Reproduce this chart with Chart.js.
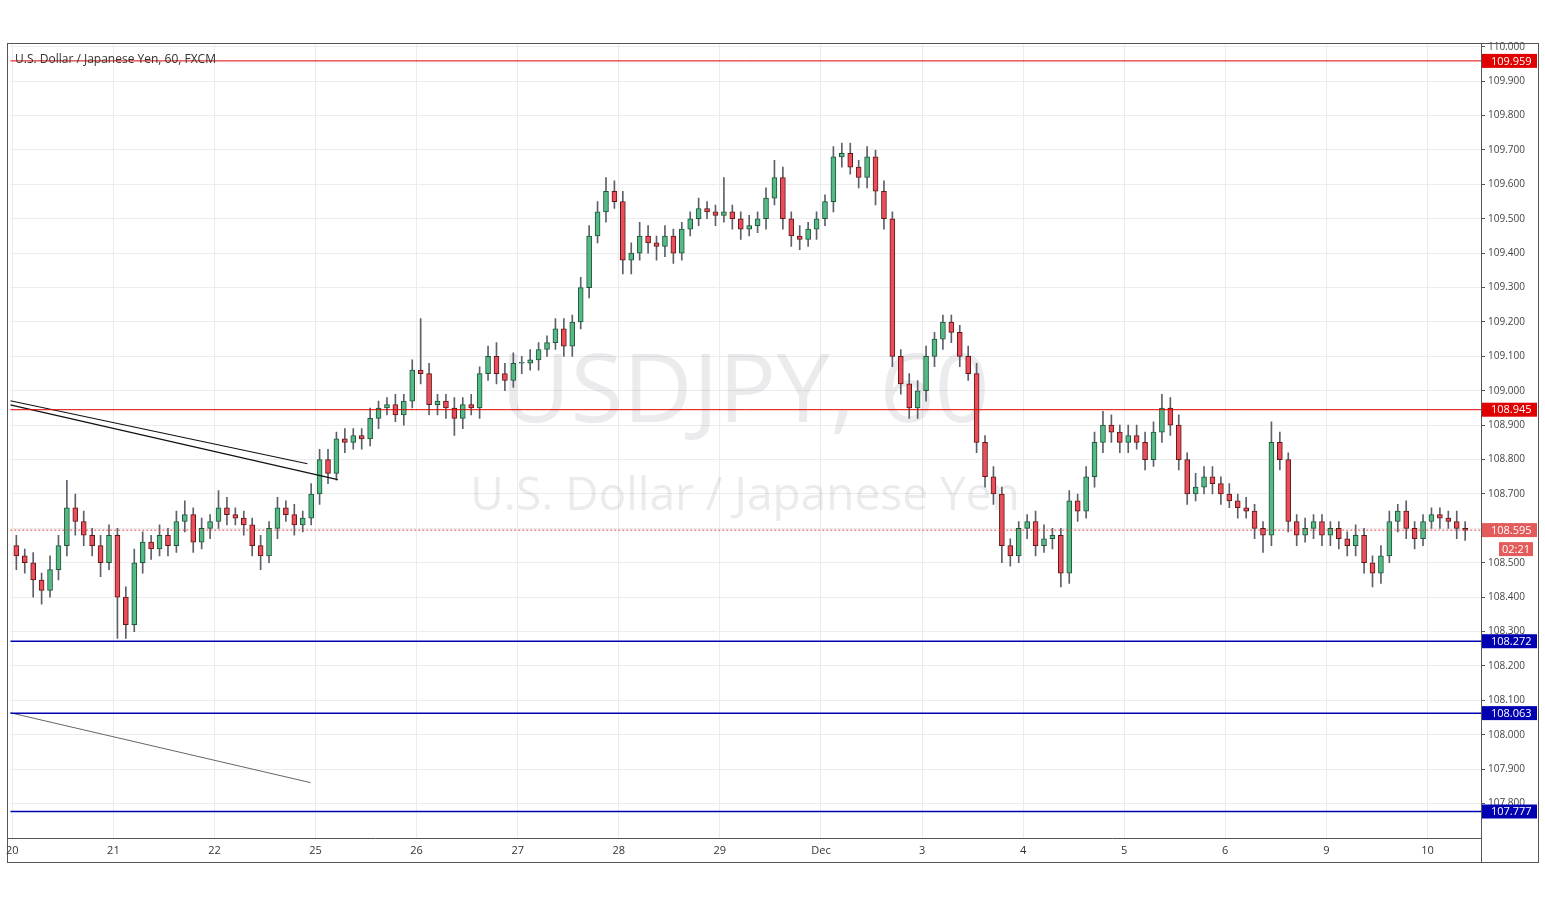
<!DOCTYPE html>
<html>
<head>
<meta charset="utf-8">
<script src="https://cdn.jsdelivr.net/npm/chart.js@4"></script>
<style>
  html, body { margin: 0; padding: 0; background: #fff; }
  #wrap { width: 1545px; height: 900px; }
</style>
</head>
<body>
<div id="wrap"><canvas id="c"></canvas></div>
<script>
(function () {
  'use strict';

  // day labels, one per trading day
  var dayLabels = ['20', '21', '22', '25', '26', '27', '28', '29', 'Dec', '3', '4', '5', '6', '9', '10'];
  var CANDLES_PER_DAY = 12; // 2-hour candles

  // closing prices, 12 per day
  var closes = [
    108.52,108.50,108.45,108.42,108.48,108.55,108.66,108.62,108.58,108.55,108.50,108.58,
    108.40,108.32,108.50,108.56,108.54,108.58,108.55,108.62,108.64,108.56,108.60,108.62,
    108.66,108.64,108.63,108.61,108.55,108.52,108.60,108.66,108.64,108.61,108.63,108.70,
    108.80,108.76,108.86,108.85,108.87,108.86,108.92,108.95,108.96,108.93,108.97,109.06,
    109.05,108.96,108.97,108.95,108.92,108.96,108.95,109.05,109.10,109.05,109.03,109.08,
    109.08,109.09,109.12,109.14,109.18,109.13,109.20,109.30,109.45,109.52,109.58,109.55,
    109.38,109.40,109.45,109.43,109.42,109.45,109.40,109.47,109.50,109.53,109.52,109.51,
    109.52,109.50,109.47,109.48,109.50,109.56,109.62,109.50,109.45,109.44,109.47,109.50,
    109.55,109.68,109.69,109.65,109.62,109.68,109.58,109.50,109.10,109.02,108.95,109.00,
    109.10,109.15,109.20,109.17,109.10,109.05,108.85,108.75,108.70,108.55,108.52,108.60,
    108.62,108.55,108.57,108.58,108.47,108.68,108.65,108.75,108.85,108.90,108.88,108.85,
    108.87,108.85,108.80,108.88,108.95,108.90,108.80,108.70,108.72,108.75,108.73,108.70,
    108.68,108.66,108.65,108.60,108.58,108.85,108.80,108.62,108.58,108.60,108.62,108.58,
    108.60,108.57,108.55,108.58,108.50,108.47,108.52,108.62,108.65,108.60,108.57,108.62,
    108.64,108.63,108.62,108.60,108.595
  ];
  var firstOpen = 108.55;

  // wick lengths in pips (0.01) above body and below body
  var wickUp = [
    3,2,3,2,4,3,8,4,3,2,3,3,
    2,3,4,3,2,3,2,3,4,2,3,2,
    5,3,2,2,2,3,2,3,2,3,2,3,
    3,3,2,3,2,2,3,2,2,3,2,3,
    15,3,2,2,3,2,3,2,3,4,3,3,
    2,3,2,2,3,3,2,3,3,3,4,3,
    3,3,4,3,2,3,2,2,2,3,2,2,
    10,2,2,3,2,3,5,3,2,3,2,2,
    2,3,3,3,2,3,2,3,2,2,3,3,
    3,2,2,2,2,3,3,2,3,2,2,2,
    2,3,4,2,2,3,2,3,3,4,3,2,
    3,3,3,3,4,3,3,2,4,3,3,2,
    3,2,3,2,2,6,3,2,2,3,2,2,
    2,2,2,3,2,2,3,3,2,3,2,2,
    2,2,2,3,2
  ];
  var wickDn = [
    4,3,5,4,2,3,3,4,3,3,4,2,
    12,4,2,3,3,2,3,2,3,3,2,3,
    2,3,2,3,3,4,2,3,2,3,2,2,
    3,3,2,3,2,3,2,3,2,2,3,2,
    3,3,3,3,5,3,2,3,2,3,3,2,
    3,2,3,2,2,3,3,2,3,2,3,2,
    4,4,2,3,4,3,3,2,2,2,2,3,
    2,3,3,2,2,3,2,3,3,3,2,3,
    2,3,3,2,3,3,4,3,3,3,3,3,
    3,3,3,3,3,2,3,3,3,5,3,2,
    3,3,2,3,4,3,3,2,3,3,3,3,
    3,2,3,2,3,3,3,3,2,2,3,3,
    2,3,2,3,5,3,3,3,3,2,3,3,
    3,3,3,3,3,4,3,2,3,3,3,2,
    2,3,2,3,3
  ];

  // horizontal levels
  var redLevels = [109.959, 108.945];
  var blueLevels = [108.272, 108.063, 107.777];
  var lastPrice = 108.595;

  // trend lines [x1, y1, x2, y2] in day units / price
  var trendBlack = [[-0.02, 108.971, 2.92, 108.788], [-0.02, 108.959, 3.22, 108.742]];
  var trendGray = [[-0.02, 108.064, 2.95, 107.861]];

  var X_MIN = -0.02, X_MAX = 14.53, Y_MIN = 107.70, Y_MAX = 110.011;

  // ---- build candle datasets ----
  var wicks = [], bodies = [], fills = [], borders = [];
  var open = firstOpen;
  for (var i = 0; i < closes.length; i++) {
    var c = closes[i];
    var x = Math.floor(i / CANDLES_PER_DAY) + (i % CANDLES_PER_DAY) / CANDLES_PER_DAY + 0.04;
    var hi = Math.max(open, c) + wickUp[i] / 100;
    var lo = Math.min(open, c) - wickDn[i] / 100;
    var up = c >= open;
    wicks.push({ x: x, y: [lo, hi] });
    bodies.push({ x: x, y: [open, c] });
    fills.push(up ? '#53b987' : '#eb4d5c');
    borders.push(up ? '#225437' : '#5b1a13');
    open = c;
  }

  function seg(s, color, width, dash) {
    return {
      type: 'line',
      data: [{ x: s[0], y: s[1] }, { x: s[2], y: s[3] }],
      borderColor: color, borderWidth: width, borderDash: dash || [],
      pointRadius: 0, fill: false, order: 0
    };
  }

  var datasets = [
    { type: 'bar', data: wicks, backgroundColor: '#5d606b', barThickness: 1, grouped: false, order: 3 },
    { type: 'bar', data: bodies, backgroundColor: fills, borderColor: borders, borderWidth: 1,
      borderSkipped: false, barThickness: 5, minBarLength: 1, grouped: false, order: 2 }
  ];
  redLevels.forEach(function (v) { datasets.push(seg([X_MIN, v, X_MAX, v], '#e00000', 1)); });
  blueLevels.forEach(function (v) { datasets.push(seg([X_MIN, v, X_MAX, v], '#0000b0', 1.5)); });
  datasets.push(seg([X_MIN, lastPrice, X_MAX, lastPrice], '#e04040', 1, [2, 2]));
  trendBlack.forEach(function (s) { datasets.push(seg(s, '#111', 1.2)); });
  trendGray.forEach(function (s) { datasets.push(seg(s, '#666', 1)); });

  // ---- plugins ----
  var watermark = {
    id: 'watermark',
    beforeDatasetsDraw: function (chart) {
      var ctx = chart.ctx;
      ctx.save();
      ctx.fillStyle = 'rgba(120,123,134,0.15)';
      ctx.textAlign = 'center';
      ctx.textBaseline = 'middle';
      ctx.font = '96px "Open Sans", sans-serif';
      ctx.fillText('USDJPY, 60', 745, 395);
      ctx.font = '46px "Open Sans", sans-serif';
      ctx.fillText('U.S. Dollar / Japanese Yen', 745, 497);
      ctx.restore();
    }
  };

  var overlay = {
    id: 'overlay',
    afterDraw: function (chart) {
      var ctx = chart.ctx, ys = chart.scales.y, a = chart.chartArea;
      ctx.save();
      // frame
      ctx.strokeStyle = '#555';
      ctx.lineWidth = 1;
      ctx.strokeRect(7.5, 43.5, 1531, 819);
      ctx.beginPath();
      ctx.moveTo(a.right + 0.5, 43); ctx.lineTo(a.right + 0.5, 862);
      ctx.moveTo(7, a.bottom + 0.5); ctx.lineTo(a.right, a.bottom + 0.5);
      ctx.stroke();
      // title
      ctx.fillStyle = '#333';
      ctx.font = '12px "Open Sans", sans-serif';
      ctx.textBaseline = 'middle';
      ctx.fillText('U.S. Dollar / Japanese Yen, 60, FXCM', 15, 60);
      // price boxes
      function box(v, color, text) {
        var y = ys.getPixelForValue(v);
        ctx.fillStyle = color;
        ctx.fillRect(a.right + 1, y - 7, 55, 14);
        ctx.fillStyle = '#fff';
        ctx.font = '11px "Open Sans", sans-serif';
        ctx.textAlign = 'left';
        ctx.fillText(text, a.right + 10, y + 0.5);
      }
      redLevels.forEach(function (v) { box(v, '#e00000', v.toFixed(3)); });
      blueLevels.forEach(function (v) { box(v, '#0000b0', v.toFixed(3)); });
      box(lastPrice, '#e45b5b', lastPrice.toFixed(3));
      ctx.fillStyle = '#e45b5b';
      ctx.fillRect(a.right + 18, ys.getPixelForValue(lastPrice) + 12, 34, 14);
      ctx.fillStyle = '#fff';
      ctx.fillText('02:21', a.right + 21, ys.getPixelForValue(lastPrice) + 19.5);
      ctx.restore();
    }
  };

  new Chart(document.getElementById('c'), {
    data: { datasets: datasets },
    plugins: [watermark, overlay],
    options: {
      responsive: true,
      maintainAspectRatio: false,
      animation: false,
      layout: { padding: { left: 7, top: 43, right: 7, bottom: 38 } },
      plugins: { legend: { display: false }, tooltip: { enabled: false } },
      scales: {
        x: {
          type: 'linear', min: X_MIN, max: X_MAX, offset: false,
          afterBuildTicks: function (s) { s.ticks = dayLabels.map(function (l, i) { return { value: i }; }); },
          afterFit: function (s) { s.height = 24; },
          grid: { color: '#ececec', drawTicks: false, offset: false },
          border: { display: false },
          ticks: {
            color: '#333', font: { family: 'Open Sans', size: 11 }, padding: 6, maxRotation: 0,
            callback: function (v) { return dayLabels[Math.round(v)]; }
          }
        },
        y: {
          position: 'right', min: Y_MIN, max: Y_MAX,
          afterBuildTicks: function (s) {
            var t = [];
            for (var k = 0; k <= 22; k++) t.push({ value: 107.8 + k * 0.1 });
            s.ticks = t;
          },
          afterFit: function (s) { s.width = 57; },
          grid: { color: '#ececec', drawTicks: true, tickLength: 4, tickColor: '#555' },
          border: { display: false },
          ticks: {
            color: '#444', font: { family: 'Open Sans', size: 10 }, padding: 3,
            callback: function (v) { return v.toFixed(3); }
          }
        }
      }
    }
  });
})();
</script>
</body>
</html>
